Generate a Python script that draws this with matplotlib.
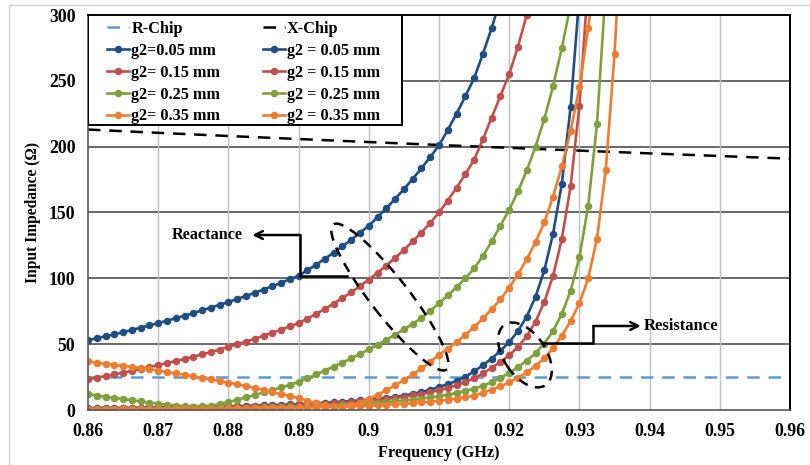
import matplotlib
matplotlib.use("Agg")
import matplotlib.pyplot as plt
import matplotlib.transforms as mtransforms
from matplotlib.patches import Ellipse, Rectangle

# ── 数据 ────────────────────────────────────────────
FREQ = [0.86, 0.86125, 0.8625, 0.86375, 0.865, 0.86625, 0.8675, 0.86875,
        0.87, 0.87125, 0.8725, 0.87375, 0.875, 0.87625, 0.8775, 0.87875,
        0.88, 0.88125, 0.8825, 0.88375, 0.885, 0.88625, 0.8875, 0.88875,
        0.89, 0.89125, 0.8925, 0.89375, 0.895, 0.89625, 0.8975, 0.89875,
        0.9, 0.90125, 0.9025, 0.90375, 0.905, 0.90625, 0.9075, 0.90875,
        0.91, 0.91125, 0.9125, 0.91375, 0.915, 0.91625, 0.9175, 0.91875,
        0.92, 0.92125, 0.9225, 0.92375, 0.925, 0.92625, 0.9275, 0.92875,
        0.93, 0.93125, 0.9325, 0.93375, 0.935, 0.93625]

R_CHIP = 25.0
X_CHIP_F = [0.86, 0.87, 0.88, 0.89, 0.90, 0.91, 0.92, 0.93, 0.94, 0.95, 0.96]
X_CHIP   = [213.0, 210.5, 208.1, 205.8, 203.5, 201.3, 199.1, 197.0, 194.9, 192.9, 190.9]

# reactance
X_005 = [53.0, 54.5, 56.0, 57.5, 59.1, 60.8, 62.5, 64.2,
         66.0, 67.8, 69.7, 71.6, 73.6, 75.7, 77.8, 79.9,
         82.0, 84.3, 86.6, 89.0, 91.5, 94.0, 96.6, 99.3,
         102.0, 106.1, 110.4, 114.9, 119.5, 124.3, 129.4, 134.6,
         140.0, 146.5, 153.2, 160.3, 167.7, 175.5, 183.6, 192.1,
         201.0, 212.7, 225.1, 238.2, 252.0, 270.5, 290.0, 312.0]
X_015 = [23.5, 24.6, 25.8, 27.1, 28.4, 29.7, 31.2, 32.7,
         34.2, 35.7, 37.2, 38.8, 40.5, 42.2, 44.0, 45.9,
         48.0, 50.0, 52.0, 54.1, 56.3, 58.6, 61.0, 63.5,
         66.0, 69.4, 73.0, 76.8, 80.8, 85.0, 89.4, 94.1,
         99.0, 104.2, 109.7, 115.5, 121.6, 128.0, 134.8, 142.0,
         150.0, 159.1, 168.8, 179.1, 190.0, 205.5, 222.0, 238.5,
         255.0, 276.0, 300.0, 328.0]
X_025 = [12.0, 11.0, 10.0, 9.2, 8.3, 7.4, 6.5, 5.6,
         4.8, 4.0, 3.4, 2.9, 2.6, 2.8, 3.4, 4.3,
         6.0, 7.8, 9.6, 11.4, 13.3, 15.2, 17.1, 19.1,
         21.4, 24.0, 27.0, 30.0, 33.0, 36.0, 39.2, 42.5,
         46.0, 49.6, 53.3, 57.2, 61.2, 65.4, 70.0, 75.2,
         81.0, 87.0, 93.3, 100.0, 107.5, 117.0, 128.0, 140.0,
         152.0, 166.0, 182.0, 200.0, 221.0, 246.0, 275.0, 308.0]
X_035 = [37.0, 36.0, 35.1, 34.3, 33.5, 32.7, 31.9, 31.0,
         30.0, 28.9, 27.8, 26.7, 25.6, 24.4, 23.2, 22.0,
         20.8, 19.5, 18.1, 16.7, 15.2, 13.7, 12.1, 10.6,
         9.0, 7.0, 5.2, 3.8, 2.8, 2.6, 3.5, 5.6,
         8.5, 11.5, 15.0, 18.8, 22.8, 27.0, 31.6, 36.6,
         42.0, 46.5, 51.5, 57.0, 63.0, 69.5, 76.5, 84.0,
         93.0, 103.0, 114.5, 127.5, 142.5, 162.0, 185.0, 212.0,
         245.0, 290.0, 340.0]

# resistance
R_005 = [1.5, 1.5, 1.6, 1.6, 1.7, 1.7, 1.8, 1.9,
         2.0, 2.0, 2.1, 2.2, 2.3, 2.4, 2.5, 2.6,
         2.8, 2.9, 3.1, 3.3, 3.5, 3.7, 3.9, 4.2,
         4.5, 4.8, 5.1, 5.5, 5.9, 6.3, 6.8, 7.3,
         7.9, 8.5, 9.2, 10.0, 11.0, 12.2, 13.7, 15.4,
         17.5, 19.6, 22.2, 25.3, 29.3, 34.0, 39.0, 45.0,
         51.5, 60.0, 71.0, 86.0, 106.0, 134.0, 172.0, 230.0,
         315.0]
R_015 = [1.0, 1.0, 1.1, 1.1, 1.2, 1.2, 1.3, 1.3,
         1.4, 1.5, 1.6, 1.7, 1.8, 1.9, 2.0, 2.1,
         2.2, 2.4, 2.6, 2.8, 3.0, 3.2, 3.4, 3.6,
         3.9, 4.2, 4.5, 4.8, 5.2, 5.6, 6.0, 6.5,
         7.0, 7.7, 8.4, 9.2, 10.1, 11.1, 12.2, 13.5,
         15.0, 16.8, 18.8, 21.2, 24.0, 27.8, 32.0, 36.5,
         41.5, 48.0, 56.0, 67.0, 82.0, 102.0, 130.0, 170.0,
         231.0, 325.0]
R_025 = [0.8, 0.8, 0.8, 0.9, 0.9, 0.9, 1.0, 1.0,
         1.0, 1.1, 1.1, 1.2, 1.2, 1.3, 1.4, 1.4,
         1.5, 1.6, 1.7, 1.8, 1.9, 2.0, 2.2, 2.3,
         2.5, 2.7, 2.9, 3.1, 3.4, 3.7, 4.0, 4.5,
         5.0, 5.5, 6.0, 6.6, 7.2, 7.9, 8.7, 9.5,
         10.5, 11.7, 13.0, 14.5, 16.2, 18.4, 21.0, 24.5,
         28.2, 32.5, 37.5, 43.0, 50.5, 60.0, 73.0, 90.5,
         116.0, 155.0, 217.0, 320.0]
R_035 = [0.5, 0.5, 0.5, 0.6, 0.6, 0.6, 0.7, 0.7,
         0.7, 0.8, 0.8, 0.9, 0.9, 1.0, 1.0, 1.1,
         1.2, 1.2, 1.3, 1.4, 1.5, 1.6, 1.7, 1.8,
         1.9, 2.0, 2.1, 2.3, 2.4, 2.6, 2.8, 3.0,
         3.2, 3.6, 4.0, 4.4, 4.8, 5.2, 5.7, 6.3,
         7.0, 7.8, 8.7, 9.7, 10.9, 13.0, 15.5, 18.0,
         21.0, 24.5, 28.5, 33.5, 39.5, 47.0, 56.5, 67.5,
         81.0, 100.0, 130.0, 182.0, 270.0, 390.0]

X_TICKS = [0.86, 0.87, 0.88, 0.89, 0.9, 0.91, 0.92, 0.93, 0.94, 0.95, 0.96]
X_TICK_LABELS = ["0.86", "0.87", "0.88", "0.89", "0.9", "0.91",
                 "0.92", "0.93", "0.94", "0.95", "0.96"]
Y_TICKS = [0, 50, 100, 150, 200, 250, 300]

R_LABELS = ["g2=0.05 mm", "g2= 0.15 mm", "g2= 0.25 mm", "g2= 0.35 mm"]
X_LABELS = ["g2 = 0.05 mm", "g2 = 0.15 mm", "g2 = 0.25 mm", "g2 = 0.35 mm"]
COLORS = ["#1F4E85", "#C0504D", "#7FA03C", "#ED7D31"]

# ── 绘图 ──────────────────────────────────────────────────
FONT = "Liberation Serif"
plt.rcParams["font.family"] = [FONT, "DejaVu Serif"]
plt.rcParams["font.weight"] = "bold"

fig = plt.figure(figsize=(8.1, 4.65), dpi=100)
ax = fig.add_axes([88/810, 55/465, 702/810, 395/465])

# outer chart frame
fig.patches.append(Rectangle((9/810, -0.05), 1.2, 1.039, transform=fig.transFigure,
                             fill=False, edgecolor="#D0D0D0", lw=1.0))

ax.set_xlim(0.86, 0.96)
ax.set_ylim(0, 300)

for y in Y_TICKS[1:-1]:
    ax.axhline(y, color="#404040", lw=1.1, zorder=0)
for x in X_TICKS[1:-1]:
    ax.axvline(x, color="#BFBFBF", lw=1.0, zorder=0)

dash = (0, (5, 3.5))
h_rchip, = ax.plot([0.86, 0.96], [R_CHIP, R_CHIP], color="#5B9BD5", lw=1.8, ls=dash)
h_xchip, = ax.plot(X_CHIP_F, X_CHIP, color="black", lw=1.8, ls=dash)

r_handles, x_handles = [], []
for xs, rs, c in zip([X_005, X_015, X_025, X_035], [R_005, R_015, R_025, R_035], COLORS):
    hx, = ax.plot(FREQ[:len(xs)], xs, color=c, lw=1.9, marker="o", ms=5.4, mew=0)
    hr, = ax.plot(FREQ[:len(rs)], rs, color=c, lw=1.9, marker="o", ms=5.4, mew=0)
    x_handles.append(hx)
    r_handles.append(hr)

# legend: separate frame + frameless legend
ax.add_patch(Rectangle((0, 285/395), 314/702, 110/395, transform=ax.transAxes,
                       facecolor="white", edgecolor="black", lw=1.4, zorder=4))
handles = [h_rchip] + r_handles + [h_xchip] + x_handles
labels = ["R-Chip"] + R_LABELS + ["X-Chip"] + X_LABELS
leg = ax.legend(handles, labels, ncol=2, loc="upper left",
                bbox_to_anchor=(19/702, 1 - 6/395), borderaxespad=0, borderpad=0,
                frameon=False, prop=dict(family=FONT, weight="bold", size=11.7),
                handlelength=1.35, handletextpad=0.15, labelspacing=0.36,
                columnspacing=2.6)
leg.set_zorder(5)

# reactance callout
ax.plot([0.89685, 0.8902, 0.8902], [101.8, 101.8, 132.9], color="black", lw=1.8,
        solid_joinstyle="miter")
ax.annotate("", xy=(0.8834, 132.9), xytext=(0.8902, 132.9),
            arrowprops=dict(arrowstyle="->", lw=1.8, color="black",
                            shrinkA=0, shrinkB=0, mutation_scale=14))
ax.text(0.8770, 132.9, "Reactance", ha="center", va="center",
        fontsize=11.7, fontweight="bold", family=FONT)

# resistance callout
ax.plot([0.92463, 0.93198, 0.93198], [50.7, 50.7, 63.8], color="black", lw=1.8,
        solid_joinstyle="miter")
ax.annotate("", xy=(0.93875, 63.8), xytext=(0.93198, 63.8),
            arrowprops=dict(arrowstyle="->", lw=1.8, color="black",
                            shrinkA=0, shrinkB=0, mutation_scale=14))
ax.text(0.9391, 63.8, "Resistance", ha="left", va="center",
        fontsize=12, fontweight="bold", family=FONT)

# dashed ellipses (size in inches, centred on data points)
def ellipse_at(xd, yd, w_in, h_in, ang):
    tr = fig.dpi_scale_trans + mtransforms.ScaledTranslation(xd, yd, ax.transData)
    e = Ellipse((0, 0), w_in, h_in, angle=ang, transform=tr, fill=False,
                edgecolor="black", lw=1.8, ls=(0, (4, 3)), zorder=6)
    ax.add_patch(e)

ellipse_at(0.9030, 85.8, 1.84, 0.38, -52)
ellipse_at(0.92225, 41.8, 0.73, 0.42, -56)

ax.set_xticks(X_TICKS)
ax.set_xticklabels(X_TICK_LABELS)
ax.set_yticks(Y_TICKS)
ax.tick_params(length=0, labelsize=12.8)
ax.tick_params(axis="x", pad=9)
ax.tick_params(axis="y", pad=9)
for lab in ax.get_xticklabels() + ax.get_yticklabels():
    lab.set_fontweight("bold")

ax.set_xlabel("Frequency (GHz)", fontsize=11.8, fontweight="bold", labelpad=4)
ax.set_ylabel("Input Impedance (Ω)", fontsize=11.2, fontweight="bold", labelpad=6)

for side in ["left", "bottom"]:
    ax.spines[side].set_color("#595959")
    ax.spines[side].set_linewidth(1.2)
for side in ["top", "right"]:
    ax.spines[side].set_color("black")
    ax.spines[side].set_linewidth(1.4)

plt.savefig("out.png", dpi=100)
